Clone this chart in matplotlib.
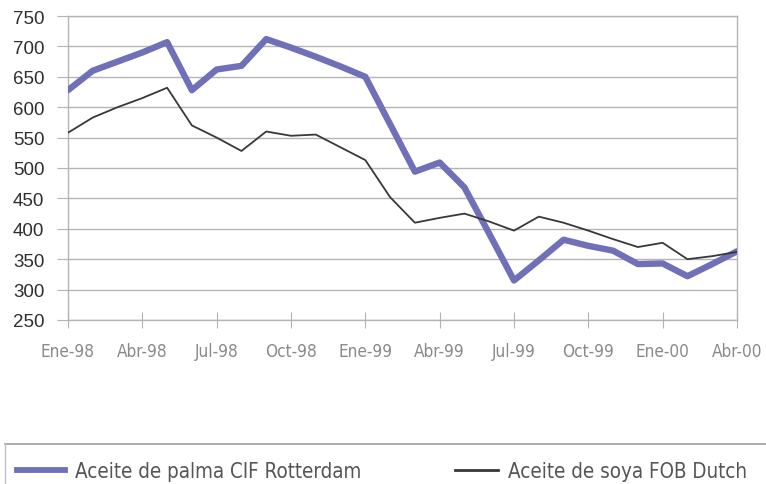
import matplotlib
matplotlib.use("Agg")
import matplotlib.pyplot as plt
from matplotlib.lines import Line2D
from matplotlib import font_manager

months = list(range(28))
tick_labels = ["Ene-98", "Abr-98", "Jul-98", "Oct-98", "Ene-99", "Abr-99",
               "Jul-99", "Oct-99", "Ene-00", "Abr-00"]
tick_pos = [0, 3, 6, 9, 12, 15, 18, 21, 24, 27]

palma = [628, 660, 675, 690, 707, 628, 662, 668, 712, 698, 683, 667, 650, 572,
         494, 509, 468, 392, 315, 348, 382, 372, 364, 342, 343, 322, 342, 363]
soya = [558, 583, 600, 615, 632, 570, 550, 528, 560, 553, 555, 534, 513, 452,
        410, 418, 425, 412, 397, 420, 410, 397, 383, 370, 377, 350, 355, 362]
legend_labels = ["Aceite de palma CIF Rotterdam", "Aceite de soya FOB Dutch"]

names = {f.name for f in font_manager.fontManager.ttflist}
if "Liberation Sans Narrow" in names:
    narrow = {"family": "Liberation Sans Narrow"}
    xl_size, lg_size = 13.5, 15.5
else:
    narrow = {"family": "DejaVu Sans", "stretch": "condensed"}
    xl_size, lg_size = 12.3, 14.8

W, H = 766, 485
fig = plt.figure(figsize=(W / 100, H / 100), dpi=100)
ax = fig.add_axes([68 / W, 1 - 321 / H, (737 - 68) / W, (321 - 17) / H])

palm_color = "#7070b8"
soya_color = "#383838"
grid_color = "#b4b4b4"

ax.plot(months, palma, color=palm_color, lw=4.6, solid_joinstyle="round",
        solid_capstyle="round", zorder=3)
ax.plot(months, soya, color=soya_color, lw=1.3, zorder=4)

ax.set_xlim(0, 27)
ax.set_ylim(250, 750)
ax.set_yticks(range(250, 751, 50))
ax.yaxis.grid(True, color=grid_color, lw=1.0)
ax.set_axisbelow(True)
for s in ax.spines.values():
    s.set_color(grid_color)
    s.set_linewidth(1.0)

ax.set_xticks(tick_pos)
ax.set_xticklabels(tick_labels)
ax.tick_params(axis="x", direction="inout", length=12, color=grid_color,
               labelcolor="#8a8a8a", pad=10)
ax.tick_params(axis="y", direction="out", length=8, color=grid_color,
               labelcolor="#2e2e2e", pad=9)
for lab in ax.get_yticklabels():
    lab.set_fontfamily("Liberation Sans")
    lab.set_fontsize(13.5)
for lab in ax.get_xticklabels():
    lab.set_fontfamily(narrow["family"])
    if "stretch" in narrow:
        lab.set_fontstretch(narrow["stretch"])
    lab.set_fontsize(xl_size)

# legend frame
fig.add_artist(Line2D([5 / W, 1.0], [1 - 445 / H, 1 - 445 / H],
                      transform=fig.transFigure, color="#a0a0a0", lw=1.2))
fig.add_artist(Line2D([5 / W, 5 / W], [1 - 445 / H, 0],
                      transform=fig.transFigure, color="#c0c0c0", lw=1.0))

prop = dict(narrow)
prop["size"] = lg_size
fs_px = lg_size * 100 / 72.0
specs = [(palm_color, 4.2, 17, 48), (soya_color, 2.0, 455, 43)]
for (col, lw, x0, hl), lab in zip(specs, legend_labels):
    leg = fig.legend([Line2D([], [], color=col, lw=lw)], [lab],
                     loc="center left", bbox_to_anchor=(x0 / W, 1 - 472 / H),
                     frameon=False, handlelength=hl / fs_px,
                     handletextpad=10 / fs_px, borderaxespad=0, borderpad=0,
                     prop=prop)
    for t in leg.get_texts():
        t.set_color("#555555")

fig.savefig("out.png", dpi=100, facecolor="white")
